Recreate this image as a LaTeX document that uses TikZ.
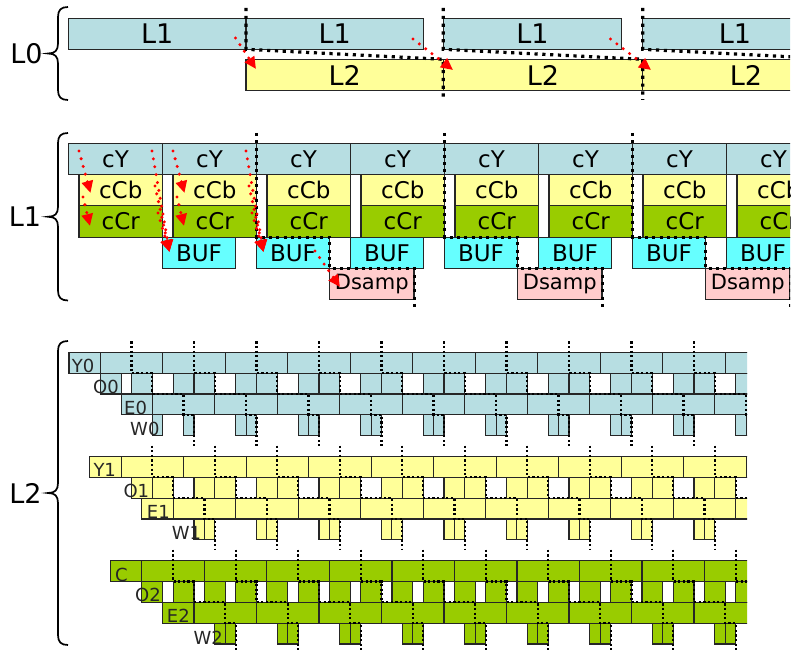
\documentclass[tikz,border=0pt]{standalone}
\usepackage{fontspec}
\setmainfont{DejaVu Sans}
\usetikzlibrary{arrows.meta}
\definecolor{lblue}{RGB}{183,222,226}
\definecolor{lyel}{RGB}{255,255,153}
\definecolor{lgrn}{RGB}{153,204,0}
\definecolor{lcyan}{RGB}{102,255,255}
\definecolor{lpink}{RGB}{255,204,204}
\definecolor{edgec}{RGB}{38,38,38}
\definecolor{arrred}{RGB}{255,0,0}
\def\ltw{10.41667}
\def\ltrh{20.83333}
\tikzset{
  boxa/.style={draw=edgec, line width=1.2pt},
  boxf/.style={draw=edgec, line width=1.15pt},
  bigtxt/.style={font=\fontsize{27}{30}\selectfont, inner sep=0pt},
  midtxt/.style={font=\fontsize{23}{26}\selectfont, inner sep=0pt},
  dstxt/.style={font=\fontsize{21}{24}\selectfont, inner sep=0pt},
  lbltxt/.style={font=\fontsize{18}{20}\selectfont, inner sep=0pt, text=black!85, anchor=base west},
  blkdotA/.style={line width=3.2pt, dash pattern=on 3.2pt off 4.6pt},
  blkdotB/.style={line width=3pt, dash pattern=on 3pt off 4.3pt},
  blkdotC/.style={line width=2.2pt, dash pattern=on 2.2pt off 2.4pt},
  reddot/.style={draw=arrred, line width=3.4pt, line cap=round, dash pattern=on 0pt off 8pt, -{Triangle[length=12pt,width=11pt]}},
  bracesty/.style={draw=black, line width=1.7pt},
}
\newcommand\mkbrace[2]{%
  \pgfmathsetmacro\bmid{(#1+#2)/2}%
  \draw[bracesty] (68,#1) .. controls (61,#1) and (58,#1+3) .. (58,#1+10)
    -- (58,\bmid-10) .. controls (58,\bmid-3) and (55,\bmid) .. (48,\bmid)
    .. controls (55,\bmid) and (58,\bmid+3) .. (58,\bmid+10)
    -- (58,#2-10) .. controls (58,#2-3) and (61,#2) .. (68,#2);}
\newcommand\ltblock[4]{%
  \pgfmathsetmacro\yA{#2}\pgfmathsetmacro\yB{#2+\ltrh}\pgfmathsetmacro\yC{#2+2*\ltrh}%
  \pgfmathsetmacro\yD{#2+3*\ltrh}\pgfmathsetmacro\yE{#2+4*\ltrh}%
  % Y row
  \draw[boxf,fill=#3] (#1,\yA) rectangle ({#1+3*\ltw},\yB);
  \foreach \k in {0,...,10}{\draw[boxf,fill=#3] ({#1+(3+6*\k)*\ltw},\yA) rectangle ({#1+(9+6*\k)*\ltw},\yB);}
  % O row
  \ifcase#4\relax
    \draw[boxf,fill=#3] ({#1+3*\ltw},\yB) rectangle ({#1+5*\ltw},\yC);
    \draw[boxf,fill=#3] ({#1+6*\ltw},\yB) rectangle ({#1+8*\ltw},\yC);
    \foreach \k in {1,...,10}{\draw[boxf,fill=#3] ({#1+(4+6*\k)*\ltw},\yB) rectangle ({#1+(6+6*\k)*\ltw},\yC) ({#1+(6+6*\k)*\ltw},\yB) rectangle ({#1+(8+6*\k)*\ltw},\yC);}
  \or
    \foreach \k in {0,...,10}{\draw[boxf,fill=#3] ({#1+(4+6*\k)*\ltw},\yB) rectangle ({#1+(6+6*\k)*\ltw},\yC) ({#1+(6+6*\k)*\ltw},\yB) rectangle ({#1+(8+6*\k)*\ltw},\yC);}
  \or
    \foreach \j in {1,...,21}{\draw[boxf,fill=#3] ({#1+3*\j*\ltw},\yB) rectangle ({#1+(3*\j+2)*\ltw},\yC);}
  \fi
  % E row
  \draw[boxf,fill=#3] ({#1+5*\ltw},\yC) rectangle ({#1+8*\ltw},\yD);
  \foreach \k in {0,...,10}{\draw[boxf,fill=#3] ({#1+(8+6*\k)*\ltw},\yC) rectangle ({#1+(14+6*\k)*\ltw},\yD);}
  % W row
  \ifnum#4=0\relax
    \draw[boxf,fill=#3] ({#1+8*\ltw},\yD) rectangle ({#1+9*\ltw},\yE);
  \else
    \draw[boxf,fill=#3] ({#1+10*\ltw},\yD) rectangle ({#1+11*\ltw},\yE);
  \fi
  \draw[boxf,fill=#3] ({#1+11*\ltw},\yD) rectangle ({#1+12*\ltw},\yE);
  \foreach \k in {2,...,10}{\draw[boxf,fill=#3] ({#1+(4+6*\k)*\ltw},\yD) rectangle ({#1+(5+6*\k)*\ltw},\yE) ({#1+(5+6*\k)*\ltw},\yD) rectangle ({#1+(6+6*\k)*\ltw},\yE);}
  % wavefront
  \foreach \k in {0,...,10}{\draw[blkdotC] ({#1+(6+6*\k)*\ltw},{#2-11}) -- ({#1+(6+6*\k)*\ltw},\yB) -- ({#1+(8+6*\k)*\ltw},\yB) -- ({#1+(8+6*\k)*\ltw},\yC) -- ({#1+(11+6*\k)*\ltw},\yC) -- ({#1+(11+6*\k)*\ltw},\yD) -- ({#1+(12+6*\k)*\ltw},\yD) -- ({#1+(12+6*\k)*\ltw},{\yE+10});}
}
\begin{document}
\begin{tikzpicture}[x=1pt,y=-1pt]
\useasboundingbox (0,0) rectangle (792,652);
\fill[white] (0,0) rectangle (792,652);
% ---------- L0 ----------
\begin{scope}
 \clip (0,0) rectangle (790,330);
 \draw[boxa,fill=lblue] (68.3,18.3) rectangle (246,49.3);
 \draw[boxa,fill=lblue] (246,18.3) rectangle (423.3,49.3);
 \draw[boxa,fill=lblue] (443.3,18.3) rectangle (621.7,49.3);
 \draw[boxa,fill=lblue] (642.7,18.3) rectangle (830,49.3);
 \node[bigtxt] (p1) at (157.2,33.8) {L1};
 \node[bigtxt] (p2) at (334.7,33.8) {L1};
 \node[bigtxt] (p3) at (532.5,33.8) {L1};
 \node[bigtxt] (p4) at (735,33.8) {L1};
 \draw[boxa,fill=lyel] (246,59.3) rectangle (443.3,90.7);
 \draw[boxa,fill=lyel] (443.3,59.3) rectangle (642.7,90.7);
 \draw[boxa,fill=lyel] (642.7,59.3) rectangle (850,90.7);
 \node[bigtxt] (q1) at (344.7,75) {L2};
 \node[bigtxt] (q2) at (543,75) {L2};
 \node[bigtxt] (q3) at (746,75) {L2};
 \draw[blkdotA] (246,8) -- (246,49.3) -- (443.3,59.3) -- (443.3,100);
 \draw[blkdotA] (443.3,8) -- (443.3,49.3) -- (642.7,59.3) -- (642.7,100);
 \draw[blkdotA] (642.7,8) -- (642.7,49.3) -- (840,59.3);
 \draw[reddot] (235.5,38) -- (256,69);
 \draw[reddot] (413,39) -- (453,70);
 \draw[reddot] (610.5,39) -- (651,70);
 % ---------- L1 ----------
 \foreach \k in {0,...,7}{
   \pgfmathsetmacro\xa{68.5+94*\k}
   \pgfmathsetmacro\xb{\xa+94}
   \pgfmathsetmacro\xc{\xa+10.5}
   \draw[boxa,fill=lblue] (\xa,143.3) rectangle (\xb,174.6);
   \node[midtxt] (cy\k) at ({(\xa+\xb)/2},159) {cY};
   \draw[boxa,fill=lyel] (\xc,174.6) rectangle (\xb,205.9);
   \node[midtxt] (cb\k) at ({(\xc+\xb)/2},190.3) {cCb};
   \draw[boxa,fill=lgrn] (\xc,205.9) rectangle (\xb,237.2);
   \node[midtxt] (cr\k) at ({(\xc+\xb)/2},221.5) {cCr};
 }
 \foreach \k in {1,...,7}{
   \pgfmathsetmacro\xa{68.5+94*\k}
   \draw[boxa,fill=lcyan] (\xa,237.2) rectangle (\xa+73,268.5);
   \node[midtxt] (bf\k) at (\xa+36.5,252.8) {BUF};
 }
 \foreach \k in {2,4,6}{
   \pgfmathsetmacro\xa{68.5+94*\k+73}
   \draw[boxa,fill=lpink] (\xa,268.5) rectangle (\xa+84.5,299.8);
   \node[dstxt] (ds\k) at (\xa+42.25,284.2) {Dsamp};
 }
 \foreach \k in {2,4,6}{
   \pgfmathsetmacro\xa{68.5+94*\k}
   \draw[blkdotB] (\xa,133) -- (\xa,237.2) -- (\xa+73,237.2) -- (\xa+73,268.5) -- (\xa+157.5,268.5) -- (\xa+157.5,310);
 }
 \foreach \k in {0,1}{
   \pgfmathsetmacro\xa{68.5+94*\k}
   \pgfmathsetmacro\xn{\xa+94}
   \draw[reddot] (\xa+10.5,151) -- (\xa+22,193);
   \draw[reddot] (\xa+14.5,197) -- (\xa+21.5,226);
   \draw[reddot] (\xa+83.5,151) -- (\xn+7,252);
   \draw[reddot] (\xa+86.5,186) -- (\xn+7,252);
   \draw[reddot] (\xa+89.5,213) -- (\xn+7,252);
 }
 \draw[reddot] (315,251) -- (340,287);
\end{scope}
% ---------- L2 ----------
\begin{scope}
 \clip (0,330) rectangle (747,652);
 \ltblock{69}{352.3}{lblue}{0}
 \node[lbltxt] (y0) at (71.7,372.6) {Y0};
 \node[lbltxt] (o0) at (93,393.5) {O0};
 \node[lbltxt] (e0) at (124,414.3) {E0};
 \node[lbltxt] (w0) at (130,435.6) {W0};
 \ltblock{89.83}{456.5}{lyel}{1}
 \node[lbltxt] (y1) at (93.3,476.8) {Y1};
 \node[lbltxt] (o1) at (123.3,497.7) {O1};
 \node[lbltxt] (e1) at (146.7,518.5) {E1};
 \node[lbltxt] (w1) at (171.7,539.8) {W1};
 \ltblock{110.67}{560.7}{lgrn}{2}
 \node[lbltxt] (c2) at (115,581) {C};
 \node[lbltxt] (o2) at (135,601.9) {O2};
 \node[lbltxt] (e2) at (166.7,622.7) {E2};
 \node[lbltxt] (w2) at (193.3,644) {W2};
\end{scope}
% ---------- braces ----------
\mkbrace{7}{100}
\node[bigtxt] (lz) at (26.5,53.5) {L0};
\mkbrace{133}{300.5}
\node[bigtxt] (lo) at (25,217) {L1};
\mkbrace{341}{645}
\node[bigtxt] (lt) at (25.5,493) {L2};
\end{tikzpicture}
\end{document}
